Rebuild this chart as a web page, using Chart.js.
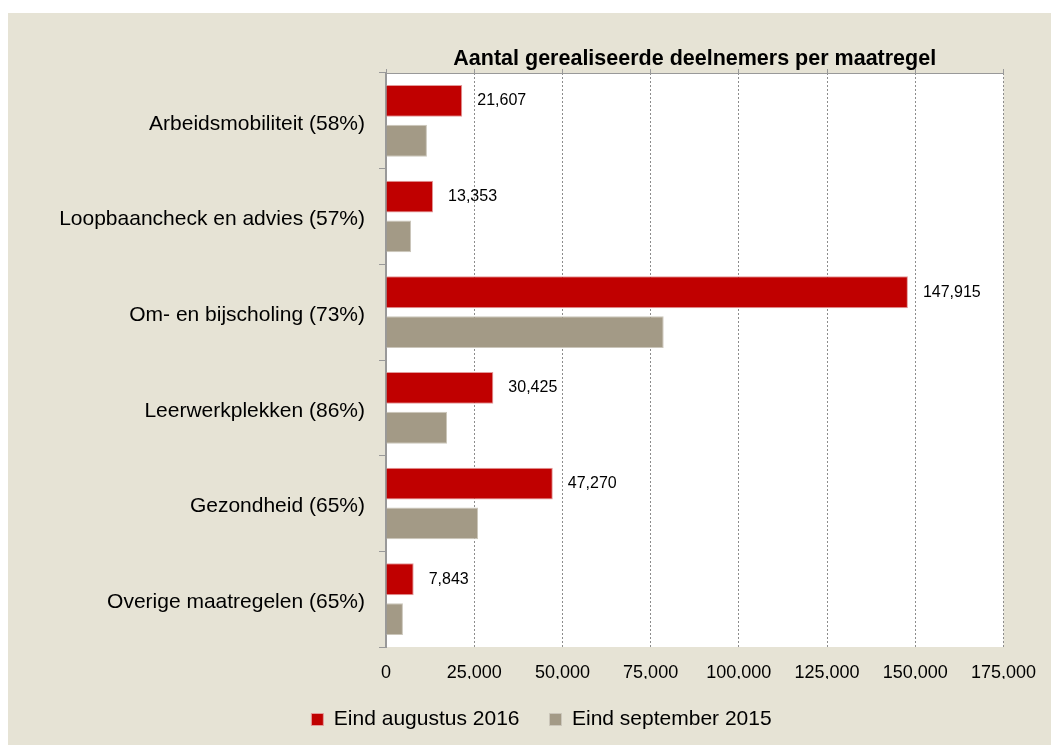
<!DOCTYPE html>
<html>
<head>
<meta charset="utf-8">
<script src="https://cdn.jsdelivr.net/npm/chart.js@4/dist/chart.umd.min.js"></script>
<style>
  body { margin: 0; background: #fff; width: 1051px; height: 745px; overflow: hidden; }
  #box { position: absolute; left: 8px; top: 13px; width: 1043px; height: 732px; background: #e6e3d5; }
</style>
</head>
<body>
<div id="box"><canvas id="chart"></canvas></div>
<script>
// data
let categories = ['Arbeidsmobiliteit (58%)', 'Loopbaancheck en advies (57%)', 'Om- en bijscholing (73%)',
  'Leerwerkplekken (86%)', 'Gezondheid (65%)', 'Overige maatregelen (65%)'];
let aug2016 = [21607, 13353, 147915, 30425, 47270, 7843];
let sep2015 = [11600, 7100, 78700, 17300, 26100, 4800];
let seriesNames = ['Eind augustus 2016', 'Eind september 2015'];
let chartTitle = 'Aantal gerealiseerde deelnemers per maatregel';

let font = '"Liberation Sans", Arial, sans-serif';

// white plot area, legend nudged to the right
let plotBg = {
  id: 'plotBg',
  afterLayout(chart) {
    chart.legend.left += 22;
    chart.legend.right += 22;
  },
  beforeDraw(chart) {
    let a = chart.chartArea;
    chart.ctx.save();
    chart.ctx.fillStyle = '#fff';
    chart.ctx.fillRect(a.left, a.top, a.right - a.left, a.bottom - a.top);
    chart.ctx.restore();
  }
};

// title over the plot area + value labels next to red bars
let extras = {
  id: 'extras',
  afterDraw(chart) {
    let ctx = chart.ctx;
    let area = chart.chartArea;
    ctx.save();
    ctx.fillStyle = '#000';
    ctx.font = 'bold 21.5px ' + font;
    ctx.textAlign = 'center';
    ctx.textBaseline = 'middle';
    ctx.fillText(chartTitle, (area.left + area.right) / 2, 46);

    ctx.font = '16px ' + font;
    ctx.textAlign = 'left';
    chart.getDatasetMeta(0).data.forEach((bar, i) => {
      ctx.fillText(aug2016[i].toLocaleString('en-US'), bar.x + 15, bar.y);
    });
    ctx.restore();
  }
};

new Chart(document.getElementById('chart'), {
  type: 'bar',
  data: {
    labels: categories,
    datasets: [
      { label: seriesNames[0], data: aug2016, backgroundColor: '#c00000', borderColor: '#e39a9a', borderWidth: 1,
        categoryPercentage: 0.833, barPercentage: 0.8 },
      { label: seriesNames[1], data: sep2015, backgroundColor: '#a39a86', borderColor: '#cbc6ba', borderWidth: 1,
        categoryPercentage: 0.833, barPercentage: 0.8 }
    ]
  },
  options: {
    indexAxis: 'y',
    responsive: true,
    maintainAspectRatio: false,
    devicePixelRatio: 1,
    animation: false,
    layout: { padding: { left: 27, top: 55, right: 47, bottom: 5 } },
    plugins: {
      tooltip: { enabled: false },
      legend: {
        position: 'bottom',
        labels: { boxWidth: 12, boxHeight: 12, padding: 30, color: '#000', font: { family: font, size: 21 } }
      }
    },
    scales: {
      x: {
        position: 'bottom',
        min: 0, max: 175000,
        afterFit: (axis) => { axis.height = 32; },
        ticks: { stepSize: 25000, padding: 15, color: '#000', font: { family: font, size: 18 },
          callback: (v) => v.toLocaleString('en-US') },
        grid: { color: '#8c8c8c', drawTicks: false, lineWidth: 1 },
        border: { display: false, dash: [2, 2] }
      },
      x2: {
        position: 'top',
        axis: 'x',
        min: 0, max: 175000,
        afterFit: (axis) => { axis.height = 5; },
        ticks: { stepSize: 25000, display: false },
        grid: { drawOnChartArea: false, tickLength: 4, color: '#999' },
        border: { color: '#999', width: 1 }
      },
      y: {
        afterFit: (axis) => { axis.width = 351; },
        ticks: { padding: 14, labelOffset: 3, color: '#000', font: { family: font, size: 21 } },
        grid: { drawOnChartArea: false, tickLength: 7, color: '#999', offset: true },
        border: { color: '#999', width: 2 }
      }
    }
  },
  plugins: [plotBg, extras]
});
</script>
</body>
</html>
